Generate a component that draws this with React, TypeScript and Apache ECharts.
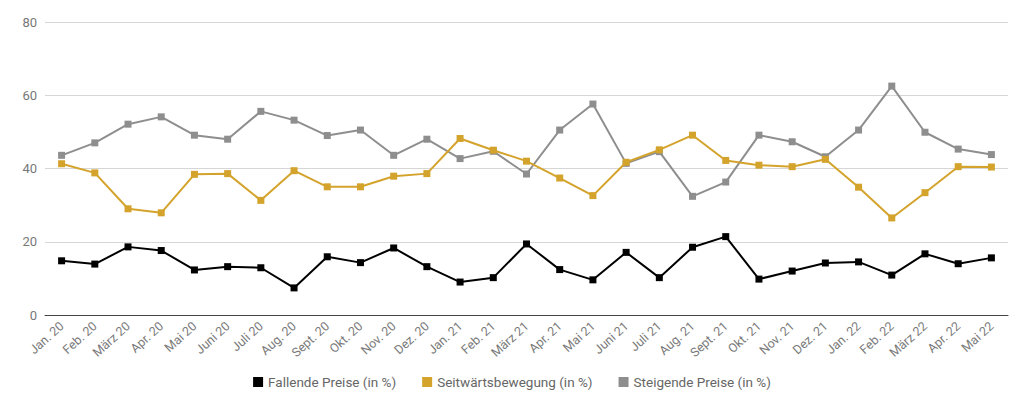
import { useEffect, useRef } from 'react';
import * as echarts from 'echarts';

const months = [
  'Jan. 20', 'Feb. 20', 'März 20', 'Apr. 20', 'Mai 20', 'Juni 20', 'Juli 20', 'Aug. 20', 'Sept. 20', 'Okt. 20', 'Nov. 20', 'Dez. 20',
  'Jan. 21', 'Feb. 21', 'März 21', 'Apr. 21', 'Mai 21', 'Juni 21', 'Juli 21', 'Aug. 21', 'Sept. 21', 'Okt. 21', 'Nov. 21', 'Dez. 21',
  'Jan. 22', 'Feb. 22', 'März 22', 'Apr. 22', 'Mai 22',
];

const fallende = [
  14.8, 13.9, 18.6, 17.6, 12.3, 13.2, 12.9, 7.4, 15.9, 14.3, 18.3, 13.2,
  9.0, 10.2, 19.4, 12.4, 9.6, 17.1, 10.2, 18.5, 21.4, 9.8, 12.0, 14.2,
  14.5, 10.9, 16.7, 14.0, 15.6,
];

const seitwaerts = [
  41.3, 38.8, 29.0, 27.9, 38.4, 38.6, 31.3, 39.4, 35.0, 35.0, 37.9, 38.6,
  48.2, 45.0, 42.0, 37.4, 32.6, 41.7, 45.1, 49.1, 42.2, 40.9, 40.5, 42.5,
  34.9, 26.5, 33.4, 40.5, 40.4,
];

const steigende = [
  43.6, 47.0, 52.1, 54.1, 49.1, 48.0, 55.6, 53.2, 49.0, 50.5, 43.6, 48.0,
  42.7, 44.7, 38.5, 50.5, 57.6, 41.4, 44.6, 32.4, 36.3, 49.1, 47.3, 43.2,
  50.5, 62.5, 49.9, 45.3, 43.8,
];

const seriesNames = ['Fallende Preise (in %)', 'Seitwärtsbewegung (in %)', 'Steigende Preise (in %)'];
const seriesColors = ['#000000', '#d4a32c', '#8e8e8e'];

export default function App() {
  const ref = useRef<HTMLDivElement>(null);

  useEffect(() => {
    if (!ref.current) return;
    const chart = echarts.init(ref.current, undefined, { renderer: 'svg' });
    const data = [fallende, seitwaerts, steigende];
    chart.setOption({
      animation: false,
      textStyle: { fontFamily: 'Roboto' },
      grid: { left: 45, right: 16, top: 22, bottom: 92 },
      legend: {
        top: 370,
        left: 'center',
        itemWidth: 10,
        itemHeight: 10,
        itemGap: 26,
        icon: 'rect',
        textStyle: { color: '#666', fontSize: 13.5 },
        data: seriesNames.map((name) => ({ name, itemStyle: { opacity: 1 } })),
      },
      xAxis: {
        type: 'category',
        data: months,
        boundaryGap: true,
        axisLine: { lineStyle: { color: '#444', width: 1 } },
        axisTick: { show: false },
        axisLabel: {
          rotate: 42,
          color: '#7a7a7a',
          fontSize: 12.5,
          margin: 9,
          interval: 0,
          padding: [0, 0, 0, 6],
        },
      },
      yAxis: {
        type: 'value',
        min: 0,
        max: 80,
        interval: 20,
        axisLine: { show: false },
        axisTick: { show: false },
        axisLabel: { color: '#777', fontSize: 13, margin: 8 },
        splitLine: { lineStyle: { color: '#d6d6d6', width: 1 } },
      },
      series: seriesNames.map((name, i) => ({
        name,
        type: 'line',
        data: data[i],
        symbol: 'rect',
        symbolSize: 7,
        showAllSymbol: true,
        itemStyle: { color: seriesColors[i] },
        lineStyle: { color: seriesColors[i], width: 2 },
        z: 3 - i,
      })),
    });
    return () => chart.dispose();
  }, []);

  return (
    <div
      ref={ref}
      style={{ position: 'absolute', left: 0, top: 0, width: 1024, height: 407 }}
    />
  );
}
